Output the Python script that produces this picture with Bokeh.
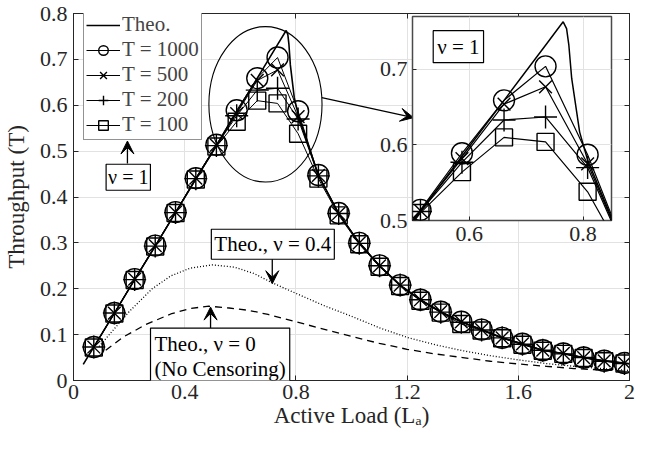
from bokeh.plotting import figure
from bokeh.models import (Range1d, FixedTicker, LinearAxis, Legend, LegendItem,
                          Label, Arrow, VeeHead, NumeralTickFormatter)
from bokeh.layouts import column
from bokeh.embed import file_html
from bokeh.resources import INLINE

# ---------------- data ----------------
load_sim = [0.073, 0.147, 0.220, 0.294, 0.367, 0.440, 0.514, 0.587, 0.661, 0.734,
            0.808, 0.881, 0.954, 1.028, 1.101, 1.175, 1.248, 1.321, 1.395, 1.468,
            1.542, 1.615, 1.688, 1.762, 1.835, 1.909, 1.982]
thr_T1000 = [0.073, 0.147, 0.221, 0.294, 0.367, 0.441, 0.514, 0.589, 0.659, 0.704,
             0.587, 0.448, 0.365, 0.300, 0.251, 0.208, 0.176, 0.150, 0.128, 0.111,
             0.093, 0.080, 0.066, 0.059, 0.050, 0.043, 0.038]
thr_T500 = [0.073, 0.147, 0.221, 0.294, 0.367, 0.441, 0.513, 0.582, 0.654, 0.677,
            0.575, 0.447, 0.364, 0.300, 0.250, 0.208, 0.176, 0.150, 0.128, 0.111,
            0.093, 0.080, 0.066, 0.059, 0.050, 0.043, 0.038]
thr_T200 = [0.073, 0.147, 0.220, 0.293, 0.366, 0.440, 0.512, 0.577, 0.633, 0.637,
            0.570, 0.446, 0.364, 0.299, 0.250, 0.208, 0.176, 0.149, 0.127, 0.110,
            0.093, 0.079, 0.066, 0.058, 0.050, 0.042, 0.037]
thr_T100 = [0.072, 0.146, 0.219, 0.292, 0.365, 0.438, 0.510, 0.564, 0.610, 0.604,
            0.538, 0.440, 0.360, 0.297, 0.248, 0.206, 0.174, 0.148, 0.123, 0.109,
            0.092, 0.078, 0.065, 0.058, 0.049, 0.042, 0.037]

load_theo1 = [0.035, 0.073, 0.147, 0.220, 0.294, 0.367, 0.440, 0.514, 0.587, 0.661,
              0.734, 0.760, 0.765, 0.771, 0.775, 0.780, 0.794, 0.808, 0.881, 0.954,
              1.028, 1.101, 1.175, 1.248, 1.321, 1.395, 1.468, 1.542, 1.615, 1.688,
              1.762, 1.835, 1.909, 1.982, 2.000]
thr_theo1 = [0.035, 0.073, 0.147, 0.220, 0.293, 0.366, 0.439, 0.512, 0.585, 0.659,
             0.732, 0.758, 0.763, 0.754, 0.732, 0.688, 0.617, 0.580, 0.447, 0.364,
             0.300, 0.250, 0.208, 0.176, 0.150, 0.128, 0.111, 0.093, 0.080, 0.066,
             0.059, 0.050, 0.043, 0.038, 0.036]

load_theo04 = [0.092, 0.15, 0.20, 0.283, 0.35, 0.42, 0.50, 0.58, 0.65, 0.715, 0.80,
               0.906, 1.0, 1.1, 1.2, 1.3, 1.4, 1.5, 1.6, 1.7, 1.8, 1.9, 2.0]
thr_theo04 = [0.074, 0.115, 0.150, 0.200, 0.228, 0.245, 0.252, 0.247, 0.233, 0.213,
              0.190, 0.162, 0.140, 0.115, 0.094, 0.078, 0.065, 0.054, 0.045, 0.037,
              0.031, 0.026, 0.022]

load_theo0 = [0.116, 0.18, 0.26, 0.35, 0.42, 0.487, 0.56, 0.63, 0.70, 0.80, 0.906,
              1.0, 1.1, 1.2, 1.3, 1.4, 1.5, 1.6, 1.7, 1.8, 1.9, 2.0]
thr_theo0 = [0.066, 0.095, 0.122, 0.145, 0.157, 0.162, 0.158, 0.153, 0.144, 0.128,
             0.111, 0.096, 0.081, 0.068, 0.058, 0.050, 0.042, 0.036, 0.031, 0.026,
             0.023, 0.020]

x_ticks = [0, 0.4, 0.8, 1.2, 1.6, 2]
x_tick_labels = ["0", "0.4", "0.8", "1.2", "1.6", "2"]
y_ticks = [0, 0.1, 0.2, 0.3, 0.4, 0.5, 0.6, 0.7, 0.8]
y_tick_labels = ["0", "0.1", "0.2", "0.3", "0.4", "0.5", "0.6", "0.7", "0.8"]
inset_x_ticks = [0.6, 0.8]
inset_x_tick_labels = ["0.6", "0.8"]
inset_y_ticks = [0.5, 0.6, 0.7]
inset_y_tick_labels = ["0.5", "0.6", "0.7"]

series = [("T = 1000", thr_T1000, "circle", 21),
          ("T = 500", thr_T500, "x", 18),
          ("T = 200", thr_T200, "cross", 23),
          ("T = 100", thr_T100, "square", 17)]

FONT = "Liberation Serif"
AX = "#262626"
GRID = "#e2e2e2"

# ---------------- main figure ----------------
p = figure(x_range=Range1d(0, 2), y_range=Range1d(0, 0.8),
           frame_width=556, frame_height=367,
           min_border_left=70, min_border_right=10, min_border_top=13, min_border_bottom=57,
           output_backend="svg", toolbar_location=None,
           background_fill_color="white", border_fill_color="white")
p.outline_line_color = AX

def style_axis(ax, ticks, labels, show_labels=True):
    ax.ticker = FixedTicker(ticks=ticks)
    ax.major_tick_in = 5
    ax.major_tick_out = 0
    ax.minor_tick_line_color = None
    ax.axis_line_color = AX
    ax.major_tick_line_color = AX
    if show_labels:
        ax.formatter = NumeralTickFormatter(format="0.[0]")
        ax.major_label_overrides = dict(zip(ticks, labels))
        ax.major_label_text_font = FONT
        ax.major_label_text_font_size = "22px"
        ax.major_label_text_color = AX
        ax.axis_label_text_font = FONT
        ax.axis_label_text_font_size = "23px"
        ax.axis_label_text_font_style = "normal"
        ax.axis_label_text_color = AX
    else:
        ax.major_label_text_font_size = "0px"
        ax.major_label_text_color = None
        ax.major_label_standoff = 0

style_axis(p.xaxis[0], x_ticks, x_tick_labels)
style_axis(p.yaxis[0], y_ticks, y_tick_labels)
p.xaxis[0].major_label_standoff = 4
p.yaxis[0].major_label_standoff = 6
p.xaxis[0].axis_label = "Active Load (Lₐ)"
p.xaxis[0].axis_label_standoff = 1
p.yaxis[0].axis_label = "Throughput (T)"
p.yaxis[0].axis_label_standoff = 8

top_ax = LinearAxis()
style_axis(top_ax, x_ticks, x_tick_labels, show_labels=False)
p.add_layout(top_ax, "above")
right_ax = LinearAxis()
style_axis(right_ax, y_ticks, y_tick_labels, show_labels=False)
p.add_layout(right_ax, "right")

p.xgrid.ticker = FixedTicker(ticks=x_ticks)
p.ygrid.ticker = FixedTicker(ticks=y_ticks)
for g in (p.xgrid[0], p.ygrid[0]):
    g.grid_line_color = GRID
    g.grid_line_width = 1

r_theo04 = p.line(load_theo04, thr_theo04, line_color="black", line_width=1.3, line_dash="1 2")
r_theo0 = p.line(load_theo0, thr_theo0, line_color="black", line_width=1.3, line_dash="7 5")
r_theo1 = p.line(load_theo1, thr_theo1, line_color="black", line_width=1.6)

items = [LegendItem(label="Theo.", renderers=[r_theo1])]
for name, vals, marker, size in series:
    rl = p.line(load_sim, vals, line_color="black", line_width=1)
    rs = p.scatter(load_sim, vals, marker=marker, size=size, fill_alpha=0,
                   line_color="black", line_width=1.4)
    items.append(LegendItem(label=name, renderers=[rl, rs]))

legend = Legend(items=items, location=(10, 240),
                glyph_width=34, glyph_height=24, spacing=0, padding=2,
                label_standoff=2, label_height=24,
                label_text_font=FONT, label_text_font_size="21px",
                border_line_color=AX, border_line_width=1,
                background_fill_color="white", background_fill_alpha=1)
p.add_layout(legend)

# zoom ellipse
p.ellipse(x=[0.6905], y=[0.602], width=0.407, height=0.339, fill_alpha=0,
          line_color="black", line_width=1.1)

def arrow(x0, y0, x1, y1):
    p.add_layout(Arrow(end=VeeHead(size=13, fill_color="black", line_color="black", line_width=1),
                       x_start=x0, y_start=y0, x_end=x1, y_end=y1,
                       line_color="black", line_width=1.3))

arrow(0.893, 0.6166, 1.223, 0.573)
arrow(0.194, 0.473, 0.194, 0.522)
arrow(0.715, 0.268, 0.715, 0.211)
arrow(0.493, 0.099, 0.493, 0.160)

def boxed(fig, x, y, text, size="20px", pad=4, align="center"):
    fig.add_layout(Label(x=x, y=y, text=text, text_align=align, text_baseline="middle",
                         text_font=FONT, text_font_size=size, text_color="black",
                         text_line_height=1.05,
                         background_fill_color="white", background_fill_alpha=1,
                         border_line_color="black", border_line_width=1.2, padding=pad))

boxed(p, 0.197, 0.443, "ν = 1", "20px", 2)
boxed(p, 0.717, 0.297, "Theo., ν = 0.4", "21px", 3)
boxed(p, 0.277, 0.052, "Theo., ν = 0\n(No Censoring)", "21px", 4, "left")

# ---------------- inset ----------------
ins = figure(x_range=Range1d(0.5, 0.85), y_range=Range1d(0.5, 0.77),
             frame_width=199, frame_height=204,
             min_border_left=70, min_border_right=10, min_border_top=4, min_border_bottom=36,
             output_backend="svg", toolbar_location=None,
             background_fill_color="white", border_fill_alpha=0)
ins.outline_line_color = "#4a4a4a"
ins.outline_line_width = 1.5
style_axis(ins.xaxis[0], inset_x_ticks, inset_x_tick_labels)
style_axis(ins.yaxis[0], inset_y_ticks, inset_y_tick_labels)
ins.xaxis[0].major_tick_in = 4
ins.yaxis[0].major_tick_in = 4
ins.xaxis[0].axis_line_color = None
ins.yaxis[0].axis_line_color = None
ins.xaxis[0].major_label_standoff = 6
ins.yaxis[0].major_label_standoff = 5
ins.xgrid.ticker = FixedTicker(ticks=inset_x_ticks)
ins.ygrid.ticker = FixedTicker(ticks=inset_y_ticks)
for g in (ins.xgrid[0], ins.ygrid[0]):
    g.grid_line_color = GRID

ins.line(load_theo1, thr_theo1, line_color="black", line_width=1.5)
for name, vals, marker, size in series:
    ins.line(load_sim, vals, line_color="black", line_width=1.2)
    ins.scatter(load_sim, vals, marker=marker, size=size, fill_alpha=0,
                line_color="black", line_width=1.4)
boxed(ins, 0.5807, 0.730, "ν = 1", "21px", 4)

ins.styles = {"position": "absolute", "left": "339px", "top": "12px"}

layout = column(p, ins)
layout.styles = {"position": "relative"}

open("out.html", "w").write(file_html(layout, INLINE))
